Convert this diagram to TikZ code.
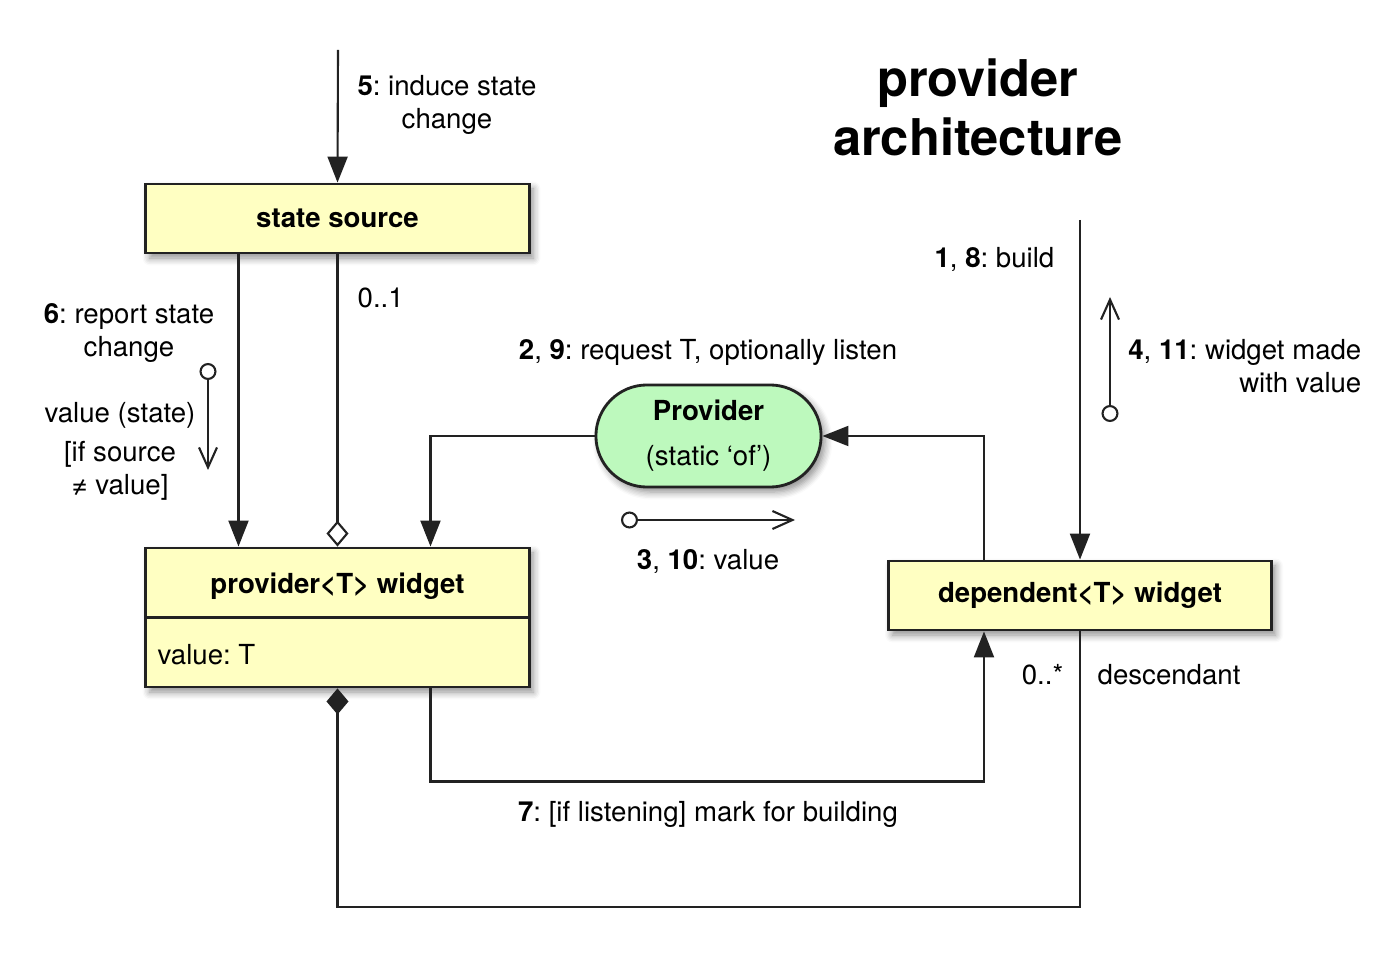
\documentclass[tikz,border=0pt]{standalone}
\usepackage{fontspec}
\setmainfont{TeX Gyre Heros}
\usepackage{xcolor}
\usepackage{tikz}
\usetikzlibrary{calc,arrows.meta,shapes.misc,shadows.blur}

\definecolor{boxyellow}{HTML}{FFFFC2}
\definecolor{provgreen}{HTML}{BDF9BD}
\definecolor{lineblack}{HTML}{222222}

\newcommand\diagfont{\fontsize{7.85pt}{9.4pt}\selectfont}
\frenchspacing

\tikzset{
  umlbox/.style={draw=lineblack,line width=0.8pt,fill=boxyellow,minimum width=3.83cm,
    minimum height=0.69cm,inner sep=0pt,font=\diagfont\bfseries,
    blur shadow={shadow xshift=0.04cm,shadow yshift=-0.05cm,shadow blur steps=6,shadow opacity=45}},
  provbox/.style={umlbox,rounded rectangle,fill=provgreen,minimum width=2.25cm,
    minimum height=1.02cm,font=\diagfont,align=center},
  lbl/.style={inner sep=0pt,align=center},
  tri/.style={draw=lineblack,line width=0.6pt,-{Triangle[length=0.26cm,width=0.2cm]}},
  agg/.style={draw=lineblack,line width=0.6pt,-{Diamond[open,length=0.26cm,width=0.22cm]}},
  comp/.style={draw=lineblack,line width=0.6pt,-{Diamond[length=0.26cm,width=0.22cm]}},
  msg/.style={draw=lineblack,line width=0.6pt,{Circle[open,length=0.17cm]}-{Straight Barb[length=0.2cm,width=0.18cm]}}
}

\begin{document}
\begin{tikzpicture}[x=0.01cm,y=-0.01cm,font=\diagfont]
    \useasboundingbox (0,0) rectangle (1400,958);

    % --- boxes
    \node[umlbox] (ss) at (337.5,218.5) {\raisebox{-0.03cm}{state source}};
    \node[umlbox,minimum height=1.39cm] (pw) at (337.5,617.5) {};
    \node[lbl,font=\diagfont\bfseries] (pwname) at (337.5,586) {provider<T> widget};
    \node[lbl,anchor=west] (pwval) at (157,655) {value: T};
    \draw[line width=0.8pt,lineblack] (pw.west) -- (pw.east);
    \node[umlbox] (dep) at (1080,595.5) {\raisebox{-0.03cm}{dependent<T> widget}};
    \node[provbox] (prov) at (708.5,436) {\raisebox{-0.04cm}{\textbf{Provider}}\\[0.12cm]\raisebox{-0.04cm}{(static ‘of’)}};

    % --- free ends
    \coordinate (in5) at (338,50);
    \coordinate (in1) at (1080,220);
    \coordinate (m6a) at (208,363);
    \coordinate (m6b) at (208,470);
    \coordinate (m3a) at (621,520);
    \coordinate (m3b) at (795,520);
    \coordinate (m4a) at (1110,422);
    \coordinate (m4b) at (1110,297);

    % --- connectors
    \draw[tri] (in5) -- (ss.north);
    \draw[tri] ($(ss.south west)+(94,0)$) -- ($(pw.north west)+(94,0)$);
    \draw[agg] (ss.south) -- (pw.north);
    \draw[tri] (prov.west) -| ($(pw.north west)+(286,0)$);
    \draw[tri] ($(dep.north west)+(97,0)$) |- (prov.east);
    \draw[tri] (in1) -- (dep.north);
    \draw[tri] ($(pw.south west)+(286,0)$) -- ++(0,93) -| ($(dep.south west)+(97,0)$);
    \draw[comp] (dep.south) -- ++(0,276) -| (pw.south);

    % --- messages
    \foreach \a/\b in {m6a/m6b,m3a/m3b,m4a/m4b}{\draw[msg] (\a) -- (\b);}

    % --- labels
    \node[lbl] (l5) at (447,105) {\textbf{5}: induce state\\change};
    \node[lbl,anchor=west] (m01) at (357,298) {0..1};
    \node[lbl] (l6) at (129,333) {\textbf{6}: report state\\change};
    \node[lbl] (l6v) at (120,451) {value (state)\\[0.06cm][if source\\≠ value]};
    \node[lbl] (l2) at (708,352) {\textbf{2}, \textbf{9}: request T, optionally listen};
    \node[lbl] (l3) at (708,561) {\textbf{3}, \textbf{10}: value};
    \node[lbl] (l7) at (708,814) {\textbf{7}: [if listening] mark for building};
    \node[lbl,anchor=east] (l1) at (1055,259) {\textbf{1}, \textbf{8}: build};
    \node[lbl,align=right,anchor=east] (l4) at (1362,366) {\textbf{4}, \textbf{11}: widget made\\with value};
    \node[lbl,anchor=east] (m0s) at (1064,675) {0..*};
    \node[lbl,anchor=west] (ldesc) at (1097,675) {descendant};
    \node[lbl,font=\bfseries\fontsize{14.4pt}{16.8pt}\selectfont] (title) at (978,107) {provider\\architecture};
\end{tikzpicture}
\end{document}
